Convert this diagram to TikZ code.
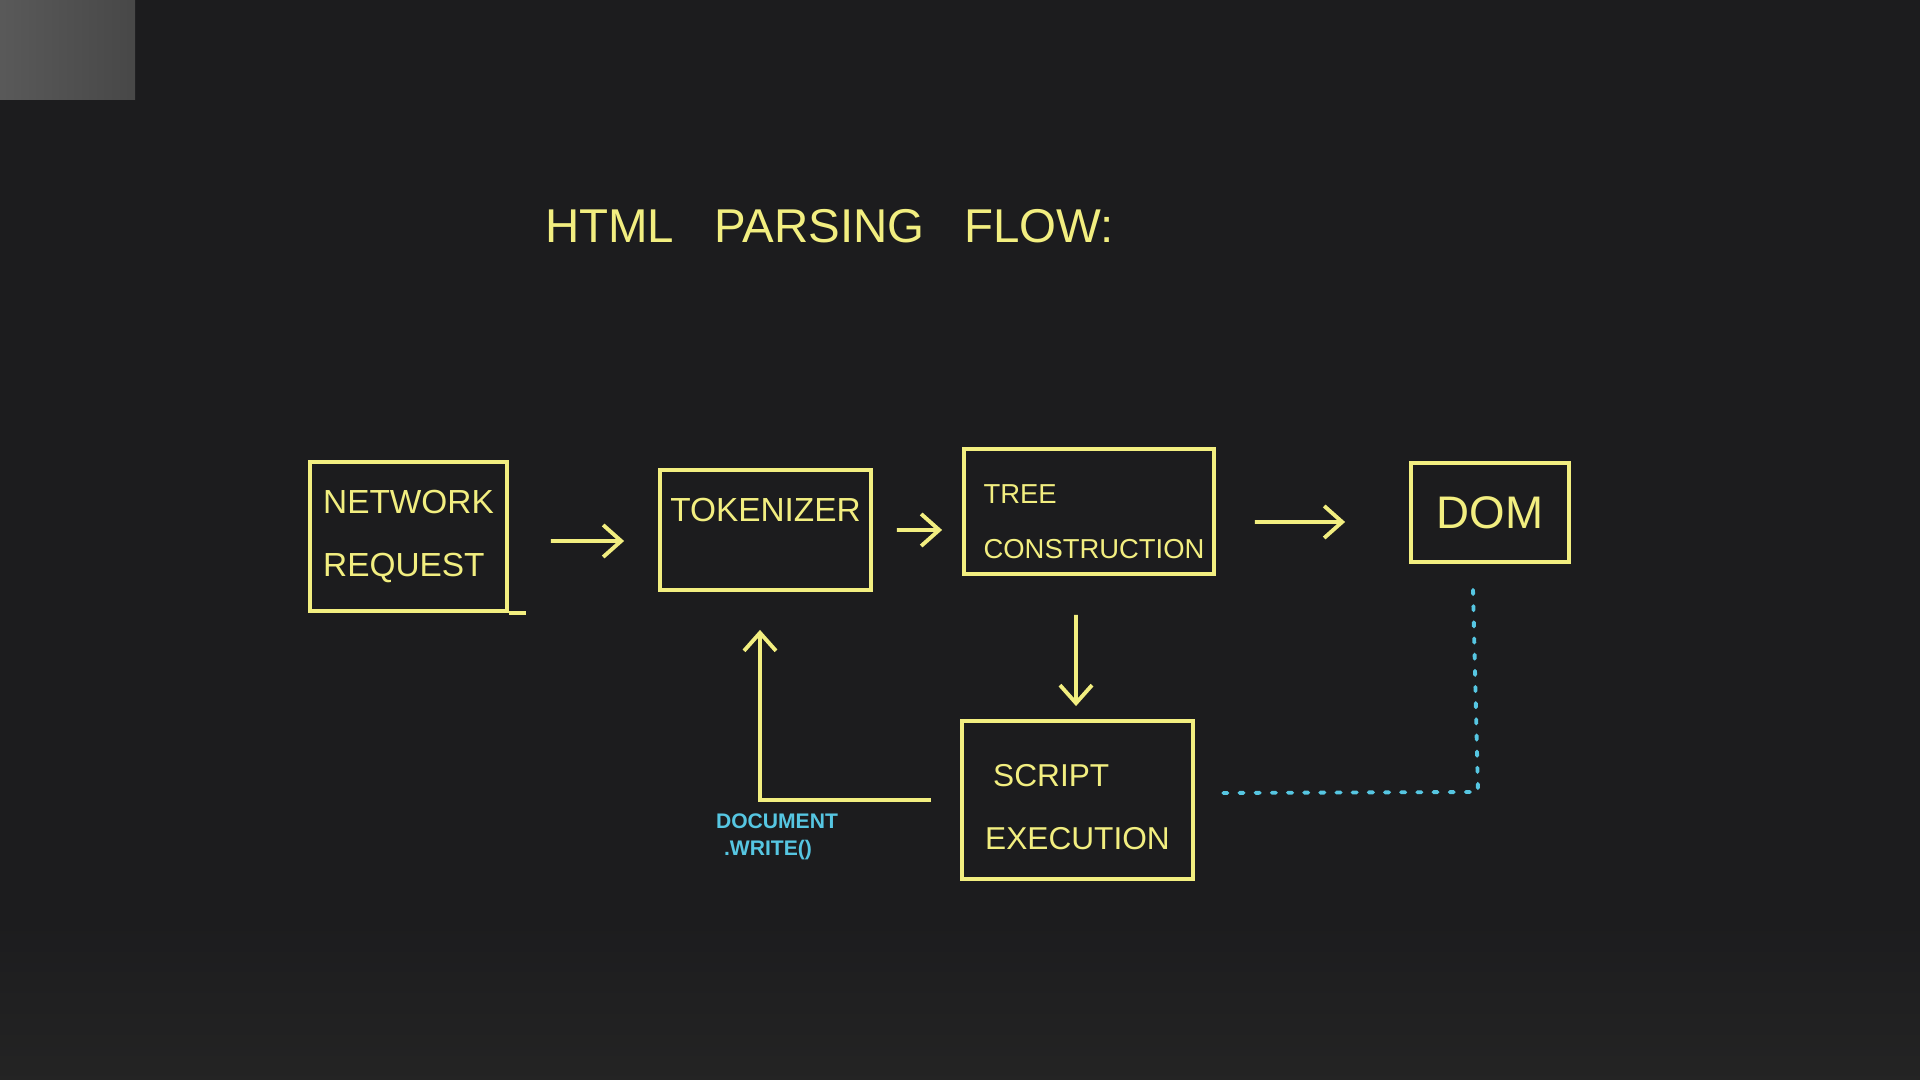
\documentclass[tikz,border=0pt]{standalone}
\usepackage{fontspec}
\setmainfont{Liberation Sans}
\usetikzlibrary{arrows.meta}
\definecolor{board}{HTML}{1C1C1E}
\definecolor{chalk}{HTML}{F2EE80}
\definecolor{marker}{HTML}{56C6E2}

\begin{document}
\begin{tikzpicture}[
    box/.style={draw=chalk, line width=1.1pt, text=chalk, align=left, inner sep=0pt},
    word/.style={text=chalk, align=left, font=\fontsize{9.5}{18}\selectfont},
    arr/.style={draw=chalk, line width=1.1pt, -{Straight Barb[length=1.8mm, width=3.2mm]}},
    dots/.style={draw=marker, line width=1.1pt, line cap=round, dash pattern=on 1.2pt off 3.4pt},
  ]
  % board
  \fill[board] (0,0) rectangle (19.2,10.8);
  \shade[left color=black!65!white, right color=black!72!white] (0,10.8) rectangle (1.35,9.8);
  \shade[top color=board, bottom color=black!86!white] (0,0) rectangle (19.2,1.6);

  \node[text=chalk, font=\fontsize{13.5}{16}\selectfont] (title) at (8.295,8.54) {HTML\hspace{4mm}PARSING\hspace{4mm}FLOW:};

  \node[box, word, minimum width=1.97cm, minimum height=1.49cm] (net) at (4.085,5.435) {NETWORK\\REQUEST};
  \node[box, minimum width=2.11cm, minimum height=1.20cm] (tok) at (7.655,5.50) {};
  \node[word] (toklbl) at ([yshift=-4.2mm]tok.north) {TOKENIZER};
  \node[box, minimum width=2.50cm, minimum height=1.25cm] (tree) at (10.89,5.685) {};
  \node[word, font=\fontsize{7.8}{15.5}\selectfont] (treelbl) at ([xshift=0.5mm,yshift=-1mm]tree.center) {TREE\\CONSTRUCTION};
  \node[box, word, font=\fontsize{13}{15}\selectfont, minimum width=1.58cm, minimum height=0.99cm] (dom) at (14.90,5.675) {DOM};
  \node[box, minimum width=2.31cm, minimum height=1.58cm] (script) at (10.775,2.80) {};
  \node[word, font=\fontsize{9}{18}\selectfont] (scriptlbl) at ([yshift=-0.7mm]script.center) {\hspace*{0.8mm}SCRIPT\\EXECUTION};
  \node[text=marker, align=left, font=\fontsize{6}{7.5}\selectfont\bfseries] (dw) at (7.77,2.43) {DOCUMENT\\\hspace*{0.8mm}.WRITE()};
  \coordinate (bend) at (14.78,2.88);

  \draw[draw=chalk, line width=1.1pt] (net.south east) -- ++(0.17,0);
  \draw[arr] ([xshift=4.2mm,yshift=-0.45mm]net.east) -- ([xshift=-3.4mm,yshift=-1.1mm]tok.west);
  \draw[arr] ([xshift=2.4mm]tok.east) -- ([xshift=-2mm,yshift=-1.85mm]tree.west);
  \draw[arr] ([xshift=3.9mm,yshift=-1.05mm]tree.east) -- ([xshift=-6.4mm,yshift=-0.95mm]dom.west);
  \draw[arr] ([xshift=-1.3mm,yshift=-3.9mm]tree.south) -- ([xshift=-0.15mm,yshift=1.3mm]script.north);
  \draw[arr] ([xshift=-2.9mm]script.west) -| ([xshift=-0.55mm,yshift=-3.8mm]tok.south);
  \draw[dots] ([xshift=-1.7mm,yshift=-2.6mm]dom.south) -- (bend) -- ([xshift=1.7mm,yshift=0.7mm]script.east);
\end{tikzpicture}
\end{document}
